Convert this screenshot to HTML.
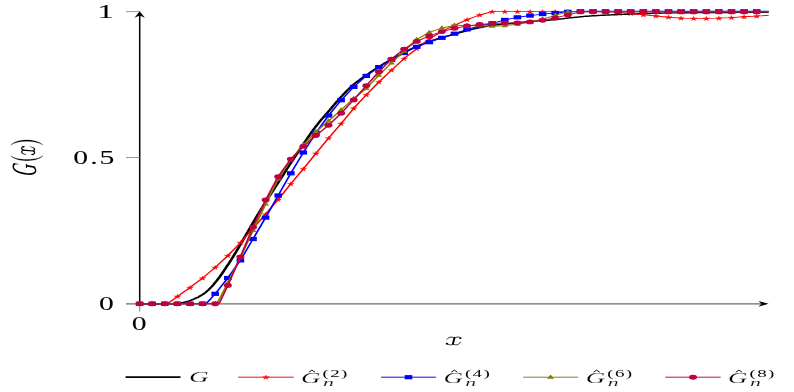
<!DOCTYPE html>
<html><head><meta charset="utf-8"><style>html,body{margin:0;padding:0;background:#fff;width:794px;height:392px;overflow:hidden;font-family:"Liberation Serif",serif}</style></head><body>
<svg width="794" height="392" viewBox="0 0 794 392" style="position:absolute;left:0;top:0;will-change:transform;opacity:0.999;filter:blur(0.4px)">
<rect width="794" height="392" fill="#fff"/>
<line x1="126" y1="303.8" x2="764" y2="303.8" stroke="#6a6a6a" stroke-width="1.3"/>
<line x1="139.7" y1="311.4" x2="139.7" y2="303" stroke="#888" stroke-width="1.1"/>
<line x1="139.7" y1="304.4" x2="139.7" y2="15" stroke="#000" stroke-width="1.5"/>
<line x1="126" y1="11.6" x2="139.6" y2="11.6" stroke="#909090" stroke-width="0.9"/>
<line x1="126" y1="157.5" x2="139.6" y2="157.5" stroke="#909090" stroke-width="0.9"/>
<path d="M768.6,303.8 L758.4,300.9 L761.5,303.8 L758.4,306.7Z" fill="#000"/>
<path d="M139.7,11.2 L134.5,17.8 L139.7,15.6 L144.9,17.8Z" fill="#000"/>
<path transform="scale(2.1,1)" d="M66.48,303.8 L66.95,303.8 L67.43,303.8 L67.90,303.8 L68.38,303.8 L68.86,303.8 L69.33,303.8 L69.81,303.8 L70.29,303.8 L70.76,303.8 L71.24,303.8 L71.71,303.8 L72.19,303.8 L72.67,303.8 L73.14,303.8 L73.62,303.8 L74.10,303.8 L74.57,303.8 L75.05,303.8 L75.52,303.8 L76.00,303.8 L76.48,303.8 L76.95,303.8 L77.43,303.8 L77.90,303.8 L78.38,303.8 L78.86,303.8 L79.33,303.8 L79.81,303.8 L80.29,303.8 L80.76,303.8 L81.24,303.8 L81.71,303.8 L82.19,303.7 L82.67,303.7 L83.14,303.6 L83.62,303.6 L84.10,303.5 L84.57,303.4 L85.05,303.3 L85.52,303.2 L86.00,303.0 L86.48,302.8 L86.95,302.7 L87.43,302.5 L87.90,302.2 L88.38,302.0 L88.86,301.7 L89.33,301.4 L89.81,301.1 L90.29,300.7 L90.76,300.3 L91.24,300.0 L91.71,299.6 L92.19,299.2 L92.67,298.8 L93.14,298.3 L93.62,297.9 L94.10,297.4 L94.57,296.9 L95.05,296.3 L95.52,295.7 L96.00,295.1 L96.48,294.5 L96.95,293.8 L97.43,293.1 L97.90,292.3 L98.38,291.5 L98.86,290.6 L99.33,289.7 L99.81,288.7 L100.29,287.7 L100.76,286.7 L101.24,285.6 L101.71,284.5 L102.19,283.3 L102.67,282.1 L103.14,280.9 L103.62,279.6 L104.10,278.3 L104.57,277.0 L105.05,275.6 L105.52,274.2 L106.00,272.8 L106.48,271.3 L106.95,269.8 L107.43,268.3 L107.90,266.8 L108.38,265.3 L108.86,263.8 L109.33,262.2 L109.81,260.7 L110.29,259.1 L110.76,257.5 L111.24,255.9 L111.71,254.3 L112.19,252.6 L112.67,250.9 L113.14,249.3 L113.62,247.6 L114.10,245.9 L114.57,244.2 L115.05,242.4 L115.52,240.7 L116.00,239.0 L116.48,237.3 L116.95,235.6 L117.43,233.8 L117.90,232.1 L118.38,230.4 L118.86,228.7 L119.33,227.0 L119.81,225.2 L120.29,223.5 L120.76,221.8 L121.24,220.1 L121.71,218.4 L122.19,216.7 L122.67,215.0 L123.14,213.4 L123.62,211.7 L124.10,210.1 L124.57,208.5 L125.05,206.9 L125.52,205.3 L126.00,203.7 L126.48,202.2 L126.95,200.6 L127.43,199.0 L127.90,197.4 L128.38,195.9 L128.86,194.3 L129.33,192.8 L129.81,191.2 L130.29,189.7 L130.76,188.1 L131.24,186.6 L131.71,185.1 L132.19,183.5 L132.67,182.0 L133.14,180.4 L133.62,178.9 L134.10,177.3 L134.57,175.7 L135.05,174.2 L135.52,172.6 L136.00,171.0 L136.48,169.4 L136.95,167.9 L137.43,166.3 L137.90,164.8 L138.38,163.2 L138.86,161.7 L139.33,160.2 L139.81,158.7 L140.29,157.2 L140.76,155.7 L141.24,154.2 L141.71,152.7 L142.19,151.2 L142.67,149.8 L143.14,148.3 L143.62,146.8 L144.10,145.3 L144.57,143.8 L145.05,142.3 L145.52,140.9 L146.00,139.4 L146.48,137.9 L146.95,136.5 L147.43,135.0 L147.90,133.6 L148.38,132.2 L148.86,130.8 L149.33,129.4 L149.81,128.1 L150.29,126.7 L150.76,125.4 L151.24,124.2 L151.71,122.9 L152.19,121.7 L152.67,120.5 L153.14,119.3 L153.62,118.2 L154.10,117.0 L154.57,115.9 L155.05,114.7 L155.52,113.6 L156.00,112.4 L156.48,111.2 L156.95,110.1 L157.43,108.9 L157.90,107.7 L158.38,106.5 L158.86,105.3 L159.33,104.2 L159.81,103.0 L160.29,101.8 L160.76,100.7 L161.24,99.5 L161.71,98.4 L162.19,97.3 L162.67,96.2 L163.14,95.2 L163.62,94.1 L164.10,93.1 L164.57,92.0 L165.05,91.0 L165.52,90.0 L166.00,89.1 L166.48,88.1 L166.95,87.2 L167.43,86.3 L167.90,85.4 L168.38,84.5 L168.86,83.7 L169.33,82.9 L169.81,82.1 L170.29,81.3 L170.76,80.6 L171.24,79.9 L171.71,79.1 L172.19,78.4 L172.67,77.7 L173.14,77.0 L173.62,76.3 L174.10,75.6 L174.57,74.9 L175.05,74.2 L175.52,73.6 L176.00,72.9 L176.48,72.2 L176.95,71.5 L177.43,70.8 L177.90,70.2 L178.38,69.5 L178.86,68.9 L179.33,68.2 L179.81,67.6 L180.29,67.0 L180.76,66.3 L181.24,65.7 L181.71,65.1 L182.19,64.5 L182.67,63.9 L183.14,63.3 L183.62,62.7 L184.10,62.1 L184.57,61.5 L185.05,61.0 L185.52,60.4 L186.00,59.8 L186.48,59.3 L186.95,58.7 L187.43,58.1 L187.90,57.6 L188.38,57.1 L188.86,56.5 L189.33,56.0 L189.81,55.4 L190.29,54.9 L190.76,54.4 L191.24,53.9 L191.71,53.3 L192.19,52.8 L192.67,52.3 L193.14,51.8 L193.62,51.3 L194.10,50.8 L194.57,50.3 L195.05,49.8 L195.52,49.3 L196.00,48.8 L196.48,48.3 L196.95,47.8 L197.43,47.3 L197.90,46.9 L198.38,46.4 L198.86,46.0 L199.33,45.6 L199.81,45.2 L200.29,44.8 L200.76,44.4 L201.24,44.0 L201.71,43.6 L202.19,43.2 L202.67,42.8 L203.14,42.5 L203.62,42.1 L204.10,41.8 L204.57,41.4 L205.05,41.1 L205.52,40.8 L206.00,40.4 L206.48,40.1 L206.95,39.8 L207.43,39.5 L207.90,39.2 L208.38,38.9 L208.86,38.6 L209.33,38.3 L209.81,38.0 L210.29,37.7 L210.76,37.5 L211.24,37.2 L211.71,36.9 L212.19,36.6 L212.67,36.3 L213.14,36.1 L213.62,35.8 L214.10,35.5 L214.57,35.2 L215.05,35.0 L215.52,34.7 L216.00,34.4 L216.48,34.1 L216.95,33.8 L217.43,33.6 L217.90,33.3 L218.38,33.0 L218.86,32.7 L219.33,32.4 L219.81,32.1 L220.29,31.8 L220.76,31.5 L221.24,31.3 L221.71,31.0 L222.19,30.7 L222.67,30.5 L223.14,30.2 L223.62,29.9 L224.10,29.7 L224.57,29.5 L225.05,29.2 L225.52,29.0 L226.00,28.7 L226.48,28.5 L226.95,28.3 L227.43,28.1 L227.90,27.8 L228.38,27.6 L228.86,27.4 L229.33,27.2 L229.81,27.0 L230.29,26.9 L230.76,26.7 L231.24,26.5 L231.71,26.3 L232.19,26.1 L232.67,26.0 L233.14,25.8 L233.62,25.7 L234.10,25.5 L234.57,25.4 L235.05,25.3 L235.52,25.1 L236.00,25.0 L236.48,24.9 L236.95,24.8 L237.43,24.7 L237.90,24.6 L238.38,24.5 L238.86,24.4 L239.33,24.3 L239.81,24.2 L240.29,24.1 L240.76,24.0 L241.24,23.9 L241.71,23.8 L242.19,23.7 L242.67,23.6 L243.14,23.5 L243.62,23.4 L244.10,23.3 L244.57,23.2 L245.05,23.1 L245.52,23.0 L246.00,22.9 L246.48,22.8 L246.95,22.7 L247.43,22.6 L247.90,22.5 L248.38,22.3 L248.86,22.2 L249.33,22.1 L249.81,22.0 L250.29,21.9 L250.76,21.8 L251.24,21.7 L251.71,21.6 L252.19,21.5 L252.67,21.5 L253.14,21.4 L253.62,21.3 L254.10,21.2 L254.57,21.1 L255.05,21.1 L255.52,21.0 L256.00,20.9 L256.48,20.8 L256.95,20.8 L257.43,20.7 L257.90,20.6 L258.38,20.6 L258.86,20.5 L259.33,20.4 L259.81,20.4 L260.29,20.3 L260.76,20.2 L261.24,20.2 L261.71,20.1 L262.19,20.0 L262.67,19.9 L263.14,19.8 L263.62,19.7 L264.10,19.7 L264.57,19.6 L265.05,19.5 L265.52,19.3 L266.00,19.2 L266.48,19.1 L266.95,19.0 L267.43,18.9 L267.90,18.8 L268.38,18.6 L268.86,18.5 L269.33,18.4 L269.81,18.3 L270.29,18.2 L270.76,18.0 L271.24,17.9 L271.71,17.8 L272.19,17.7 L272.67,17.6 L273.14,17.5 L273.62,17.4 L274.10,17.3 L274.57,17.2 L275.05,17.1 L275.52,17.0 L276.00,16.9 L276.48,16.8 L276.95,16.7 L277.43,16.6 L277.90,16.5 L278.38,16.4 L278.86,16.3 L279.33,16.3 L279.81,16.2 L280.29,16.1 L280.76,16.0 L281.24,16.0 L281.71,15.9 L282.19,15.8 L282.67,15.8 L283.14,15.7 L283.62,15.7 L284.10,15.6 L284.57,15.5 L285.05,15.5 L285.52,15.4 L286.00,15.4 L286.48,15.3 L286.95,15.3 L287.43,15.2 L287.90,15.2 L288.38,15.1 L288.86,15.1 L289.33,15.0 L289.81,15.0 L290.29,15.0 L290.76,14.9 L291.24,14.9 L291.71,14.8 L292.19,14.8 L292.67,14.7 L293.14,14.7 L293.62,14.7 L294.10,14.6 L294.57,14.6 L295.05,14.5 L295.52,14.5 L296.00,14.5 L296.48,14.4 L296.95,14.4 L297.43,14.3 L297.90,14.3 L298.38,14.3 L298.86,14.2 L299.33,14.2 L299.81,14.1 L300.29,14.1 L300.76,14.1 L301.24,14.0 L301.71,14.0 L302.19,14.0 L302.67,13.9 L303.14,13.9 L303.62,13.8 L304.10,13.8 L304.57,13.8 L305.05,13.7 L305.52,13.7 L306.00,13.7 L306.48,13.6 L306.95,13.6 L307.43,13.6 L307.90,13.5 L308.38,13.5 L308.86,13.5 L309.33,13.5 L309.81,13.4 L310.29,13.4 L310.76,13.4 L311.24,13.3 L311.71,13.3 L312.19,13.3 L312.67,13.3 L313.14,13.2 L313.62,13.2 L314.10,13.2 L314.57,13.2 L315.05,13.1 L315.52,13.1 L316.00,13.1 L316.48,13.1 L316.95,13.0 L317.43,13.0 L317.90,13.0 L318.38,13.0 L318.86,13.0 L319.33,13.0 L319.81,12.9 L320.29,12.9 L320.76,12.9 L321.24,12.9 L321.71,12.9 L322.19,12.9 L322.67,12.8 L323.14,12.8 L323.62,12.8 L324.10,12.8 L324.57,12.8 L325.05,12.8 L325.52,12.8 L326.00,12.7 L326.48,12.7 L326.95,12.7 L327.43,12.7 L327.90,12.7 L328.38,12.7 L328.86,12.7 L329.33,12.7 L329.81,12.7 L330.29,12.6 L330.76,12.6 L331.24,12.6 L331.71,12.6 L332.19,12.6 L332.67,12.6 L333.14,12.6 L333.62,12.6 L334.10,12.6 L334.57,12.6 L335.05,12.6 L335.52,12.6 L336.00,12.6 L336.48,12.6 L336.95,12.6 L337.43,12.6 L337.90,12.6 L338.38,12.5 L338.86,12.5 L339.33,12.5 L339.81,12.5 L340.29,12.5 L340.76,12.5 L341.24,12.5 L341.71,12.5 L342.19,12.5 L342.67,12.5 L343.14,12.5 L343.62,12.5 L344.10,12.5 L344.57,12.5 L345.05,12.5 L345.52,12.5 L346.00,12.5 L346.48,12.5 L346.95,12.5 L347.43,12.5 L347.90,12.5 L348.38,12.5 L348.86,12.5 L349.33,12.5 L349.81,12.5 L350.29,12.5 L350.76,12.4 L351.24,12.4 L351.71,12.4 L352.19,12.4 L352.67,12.4 L353.14,12.4 L353.62,12.4 L354.10,12.4 L354.57,12.4 L355.05,12.4 L355.52,12.4 L356.00,12.4 L356.48,12.4 L356.95,12.4 L357.43,12.4 L357.90,12.4 L358.38,12.4 L358.86,12.4 L359.33,12.4 L359.81,12.4 L360.29,12.4 L360.76,12.4 L361.24,12.4 L361.71,12.4 L362.19,12.4 L362.67,12.4 L363.14,12.4 L363.62,12.4 L364.10,12.4 L364.57,12.4 L365.05,12.4 L365.52,12.4 L366.00,12.4 L366.05,12.4" stroke="#000" stroke-width="1.4" fill="none" stroke-linejoin="round"/>
<path transform="scale(2.1,1)" d="M66.50,303.8 L72.50,303.8 L78.49,303.8 L80.10,303.2 L84.49,296.4 L90.48,287.6 L96.48,278.1 L102.48,267.4 L108.47,255.7 L114.47,242.6 L120.47,228.4 L126.46,214.2 L132.46,199.5 L138.45,183.9 L144.45,168.9 L150.45,153.4 L156.44,138.1 L162.44,123.6 L168.44,108.3 L174.43,94.9 L180.43,82.0 L186.42,70.1 L192.42,58.6 L198.42,48.7 L204.41,39.0 L210.41,31.4 L216.40,25.3 L222.40,19.6 L228.40,15.0 L234.39,11.6 L240.39,11.6 L246.39,11.6 L252.38,11.6 L258.38,11.6 L264.37,11.6 L270.37,11.6 L276.37,11.6 L282.36,11.6 L288.36,11.6 L294.36,12.2 L300.35,13.5 L306.35,14.8 L312.34,16.0 L318.34,17.2 L324.34,18.1 L330.33,18.4 L336.33,18.4 L342.32,18.1 L348.32,17.6 L354.32,16.8 L360.31,16.1 L366.05,15.3" stroke="#ff0000" stroke-width="0.9" fill="none" stroke-linejoin="round"/>
<path d="M139.65,301.70 L140.40,303.37 L143.03,303.32 L140.87,304.31 L141.74,305.95 L139.65,304.90 L137.56,305.95 L138.43,304.31 L136.27,303.32 L138.90,303.37Z" fill="#ff0000" stroke="#ff0000" stroke-width="0.35" stroke-linejoin="miter"/>
<path d="M152.24,301.70 L152.99,303.37 L155.62,303.32 L153.46,304.31 L154.33,305.95 L152.24,304.90 L150.16,305.95 L151.03,304.31 L148.87,303.32 L151.49,303.37Z" fill="#ff0000" stroke="#ff0000" stroke-width="0.35" stroke-linejoin="miter"/>
<path d="M164.83,301.70 L165.59,303.37 L168.21,303.32 L166.05,304.31 L166.92,305.95 L164.83,304.90 L162.75,305.95 L163.62,304.31 L161.46,303.32 L164.08,303.37Z" fill="#ff0000" stroke="#ff0000" stroke-width="0.35" stroke-linejoin="miter"/>
<path d="M177.43,294.30 L178.18,295.97 L180.80,295.92 L178.64,296.91 L179.51,298.55 L177.43,297.50 L175.34,298.55 L176.21,296.91 L174.05,295.92 L176.67,295.97Z" fill="#ff0000" stroke="#ff0000" stroke-width="0.35" stroke-linejoin="miter"/>
<path d="M190.02,285.50 L190.77,287.17 L193.39,287.12 L191.23,288.11 L192.10,289.75 L190.02,288.70 L187.93,289.75 L188.80,288.11 L186.64,287.12 L189.27,287.17Z" fill="#ff0000" stroke="#ff0000" stroke-width="0.35" stroke-linejoin="miter"/>
<path d="M202.61,276.00 L203.36,277.67 L205.99,277.62 L203.83,278.61 L204.70,280.25 L202.61,279.20 L200.52,280.25 L201.39,278.61 L199.23,277.62 L201.86,277.67Z" fill="#ff0000" stroke="#ff0000" stroke-width="0.35" stroke-linejoin="miter"/>
<path d="M215.20,265.30 L215.95,266.97 L218.58,266.92 L216.42,267.91 L217.29,269.55 L215.20,268.50 L213.12,269.55 L213.99,267.91 L211.83,266.92 L214.45,266.97Z" fill="#ff0000" stroke="#ff0000" stroke-width="0.35" stroke-linejoin="miter"/>
<path d="M227.79,253.60 L228.55,255.27 L231.17,255.22 L229.01,256.21 L229.88,257.85 L227.79,256.80 L225.71,257.85 L226.58,256.21 L224.42,255.22 L227.04,255.27Z" fill="#ff0000" stroke="#ff0000" stroke-width="0.35" stroke-linejoin="miter"/>
<path d="M240.39,240.50 L241.14,242.17 L243.76,242.12 L241.60,243.11 L242.47,244.75 L240.39,243.70 L238.30,244.75 L239.17,243.11 L237.01,242.12 L239.63,242.17Z" fill="#ff0000" stroke="#ff0000" stroke-width="0.35" stroke-linejoin="miter"/>
<path d="M252.98,226.30 L253.73,227.97 L256.35,227.92 L254.19,228.91 L255.06,230.55 L252.98,229.50 L250.89,230.55 L251.76,228.91 L249.60,227.92 L252.23,227.97Z" fill="#ff0000" stroke="#ff0000" stroke-width="0.35" stroke-linejoin="miter"/>
<path d="M265.57,212.10 L266.32,213.77 L268.95,213.72 L266.79,214.71 L267.66,216.35 L265.57,215.30 L263.48,216.35 L264.35,214.71 L262.19,213.72 L264.82,213.77Z" fill="#ff0000" stroke="#ff0000" stroke-width="0.35" stroke-linejoin="miter"/>
<path d="M278.16,197.40 L278.91,199.07 L281.54,199.02 L279.38,200.01 L280.25,201.65 L278.16,200.60 L276.08,201.65 L276.95,200.01 L274.79,199.02 L277.41,199.07Z" fill="#ff0000" stroke="#ff0000" stroke-width="0.35" stroke-linejoin="miter"/>
<path d="M290.75,181.80 L291.51,183.47 L294.13,183.42 L291.97,184.41 L292.84,186.05 L290.75,185.00 L288.67,186.05 L289.54,184.41 L287.38,183.42 L290.00,183.47Z" fill="#ff0000" stroke="#ff0000" stroke-width="0.35" stroke-linejoin="miter"/>
<path d="M303.35,166.80 L304.10,168.47 L306.72,168.42 L304.56,169.41 L305.43,171.05 L303.35,170.00 L301.26,171.05 L302.13,169.41 L299.97,168.42 L302.59,168.47Z" fill="#ff0000" stroke="#ff0000" stroke-width="0.35" stroke-linejoin="miter"/>
<path d="M315.94,151.30 L316.69,152.97 L319.31,152.92 L317.15,153.91 L318.02,155.55 L315.94,154.50 L313.85,155.55 L314.72,153.91 L312.56,152.92 L315.19,152.97Z" fill="#ff0000" stroke="#ff0000" stroke-width="0.35" stroke-linejoin="miter"/>
<path d="M328.53,136.00 L329.28,137.67 L331.91,137.62 L329.75,138.61 L330.62,140.25 L328.53,139.20 L326.44,140.25 L327.31,138.61 L325.15,137.62 L327.78,137.67Z" fill="#ff0000" stroke="#ff0000" stroke-width="0.35" stroke-linejoin="miter"/>
<path d="M341.12,121.50 L341.87,123.17 L344.50,123.12 L342.34,124.11 L343.21,125.75 L341.12,124.70 L339.04,125.75 L339.91,124.11 L337.75,123.12 L340.37,123.17Z" fill="#ff0000" stroke="#ff0000" stroke-width="0.35" stroke-linejoin="miter"/>
<path d="M353.71,106.20 L354.47,107.87 L357.09,107.82 L354.93,108.81 L355.80,110.45 L353.71,109.40 L351.63,110.45 L352.50,108.81 L350.34,107.82 L352.96,107.87Z" fill="#ff0000" stroke="#ff0000" stroke-width="0.35" stroke-linejoin="miter"/>
<path d="M366.31,92.80 L367.06,94.47 L369.68,94.42 L367.52,95.41 L368.39,97.05 L366.31,96.00 L364.22,97.05 L365.09,95.41 L362.93,94.42 L365.55,94.47Z" fill="#ff0000" stroke="#ff0000" stroke-width="0.35" stroke-linejoin="miter"/>
<path d="M378.90,79.90 L379.65,81.57 L382.27,81.52 L380.11,82.51 L380.98,84.15 L378.90,83.10 L376.81,84.15 L377.68,82.51 L375.52,81.52 L378.15,81.57Z" fill="#ff0000" stroke="#ff0000" stroke-width="0.35" stroke-linejoin="miter"/>
<path d="M391.49,68.00 L392.24,69.67 L394.87,69.62 L392.71,70.61 L393.58,72.25 L391.49,71.20 L389.40,72.25 L390.27,70.61 L388.11,69.62 L390.74,69.67Z" fill="#ff0000" stroke="#ff0000" stroke-width="0.35" stroke-linejoin="miter"/>
<path d="M404.08,56.50 L404.83,58.17 L407.46,58.12 L405.30,59.11 L406.17,60.75 L404.08,59.70 L402.00,60.75 L402.87,59.11 L400.71,58.12 L403.33,58.17Z" fill="#ff0000" stroke="#ff0000" stroke-width="0.35" stroke-linejoin="miter"/>
<path d="M416.67,46.60 L417.43,48.27 L420.05,48.22 L417.89,49.21 L418.76,50.85 L416.67,49.80 L414.59,50.85 L415.46,49.21 L413.30,48.22 L415.92,48.27Z" fill="#ff0000" stroke="#ff0000" stroke-width="0.35" stroke-linejoin="miter"/>
<path d="M429.27,36.90 L430.02,38.57 L432.64,38.52 L430.48,39.51 L431.35,41.15 L429.27,40.10 L427.18,41.15 L428.05,39.51 L425.89,38.52 L428.51,38.57Z" fill="#ff0000" stroke="#ff0000" stroke-width="0.35" stroke-linejoin="miter"/>
<path d="M441.86,29.30 L442.61,30.97 L445.23,30.92 L443.07,31.91 L443.94,33.55 L441.86,32.50 L439.77,33.55 L440.64,31.91 L438.48,30.92 L441.11,30.97Z" fill="#ff0000" stroke="#ff0000" stroke-width="0.35" stroke-linejoin="miter"/>
<path d="M454.45,23.20 L455.20,24.87 L457.83,24.82 L455.67,25.81 L456.54,27.45 L454.45,26.40 L452.36,27.45 L453.23,25.81 L451.07,24.82 L453.70,24.87Z" fill="#ff0000" stroke="#ff0000" stroke-width="0.35" stroke-linejoin="miter"/>
<path d="M467.04,17.50 L467.79,19.17 L470.42,19.12 L468.26,20.11 L469.13,21.75 L467.04,20.70 L464.96,21.75 L465.83,20.11 L463.67,19.12 L466.29,19.17Z" fill="#ff0000" stroke="#ff0000" stroke-width="0.35" stroke-linejoin="miter"/>
<path d="M479.63,12.90 L480.39,14.57 L483.01,14.52 L480.85,15.51 L481.72,17.15 L479.63,16.10 L477.55,17.15 L478.42,15.51 L476.26,14.52 L478.88,14.57Z" fill="#ff0000" stroke="#ff0000" stroke-width="0.35" stroke-linejoin="miter"/>
<path d="M492.23,9.50 L492.98,11.17 L495.60,11.12 L493.44,12.11 L494.31,13.75 L492.23,12.70 L490.14,13.75 L491.01,12.11 L488.85,11.12 L491.47,11.17Z" fill="#ff0000" stroke="#ff0000" stroke-width="0.35" stroke-linejoin="miter"/>
<path d="M504.82,9.50 L505.57,11.17 L508.19,11.12 L506.03,12.11 L506.90,13.75 L504.82,12.70 L502.73,13.75 L503.60,12.11 L501.44,11.12 L504.07,11.17Z" fill="#ff0000" stroke="#ff0000" stroke-width="0.35" stroke-linejoin="miter"/>
<path d="M517.41,9.50 L518.16,11.17 L520.79,11.12 L518.63,12.11 L519.50,13.75 L517.41,12.70 L515.32,13.75 L516.19,12.11 L514.03,11.12 L516.66,11.17Z" fill="#ff0000" stroke="#ff0000" stroke-width="0.35" stroke-linejoin="miter"/>
<path d="M530.00,9.50 L530.75,11.17 L533.38,11.12 L531.22,12.11 L532.09,13.75 L530.00,12.70 L527.92,13.75 L528.79,12.11 L526.63,11.12 L529.25,11.17Z" fill="#ff0000" stroke="#ff0000" stroke-width="0.35" stroke-linejoin="miter"/>
<path d="M542.59,9.50 L543.35,11.17 L545.97,11.12 L543.81,12.11 L544.68,13.75 L542.59,12.70 L540.51,13.75 L541.38,12.11 L539.22,11.12 L541.84,11.17Z" fill="#ff0000" stroke="#ff0000" stroke-width="0.35" stroke-linejoin="miter"/>
<path d="M555.19,9.50 L555.94,11.17 L558.56,11.12 L556.40,12.11 L557.27,13.75 L555.19,12.70 L553.10,13.75 L553.97,12.11 L551.81,11.12 L554.43,11.17Z" fill="#ff0000" stroke="#ff0000" stroke-width="0.35" stroke-linejoin="miter"/>
<path d="M567.78,9.50 L568.53,11.17 L571.15,11.12 L568.99,12.11 L569.86,13.75 L567.78,12.70 L565.69,13.75 L566.56,12.11 L564.40,11.12 L567.03,11.17Z" fill="#ff0000" stroke="#ff0000" stroke-width="0.35" stroke-linejoin="miter"/>
<path d="M580.37,9.50 L581.12,11.17 L583.75,11.12 L581.59,12.11 L582.46,13.75 L580.37,12.70 L578.28,13.75 L579.15,12.11 L576.99,11.12 L579.62,11.17Z" fill="#ff0000" stroke="#ff0000" stroke-width="0.35" stroke-linejoin="miter"/>
<path d="M592.96,9.50 L593.71,11.17 L596.34,11.12 L594.18,12.11 L595.05,13.75 L592.96,12.70 L590.88,13.75 L591.75,12.11 L589.59,11.12 L592.21,11.17Z" fill="#ff0000" stroke="#ff0000" stroke-width="0.35" stroke-linejoin="miter"/>
<path d="M605.55,9.50 L606.31,11.17 L608.93,11.12 L606.77,12.11 L607.64,13.75 L605.55,12.70 L603.47,13.75 L604.34,12.11 L602.18,11.12 L604.80,11.17Z" fill="#ff0000" stroke="#ff0000" stroke-width="0.35" stroke-linejoin="miter"/>
<path d="M618.15,10.10 L618.90,11.77 L621.52,11.72 L619.36,12.71 L620.23,14.35 L618.15,13.30 L616.06,14.35 L616.93,12.71 L614.77,11.72 L617.39,11.77Z" fill="#ff0000" stroke="#ff0000" stroke-width="0.35" stroke-linejoin="miter"/>
<path d="M630.74,11.40 L631.49,13.07 L634.11,13.02 L631.95,14.01 L632.82,15.65 L630.74,14.60 L628.65,15.65 L629.52,14.01 L627.36,13.02 L629.99,13.07Z" fill="#ff0000" stroke="#ff0000" stroke-width="0.35" stroke-linejoin="miter"/>
<path d="M643.33,12.70 L644.08,14.37 L646.71,14.32 L644.55,15.31 L645.42,16.95 L643.33,15.90 L641.24,16.95 L642.11,15.31 L639.95,14.32 L642.58,14.37Z" fill="#ff0000" stroke="#ff0000" stroke-width="0.35" stroke-linejoin="miter"/>
<path d="M655.92,13.90 L656.67,15.57 L659.30,15.52 L657.14,16.51 L658.01,18.15 L655.92,17.10 L653.84,18.15 L654.71,16.51 L652.55,15.52 L655.17,15.57Z" fill="#ff0000" stroke="#ff0000" stroke-width="0.35" stroke-linejoin="miter"/>
<path d="M668.51,15.10 L669.27,16.77 L671.89,16.72 L669.73,17.71 L670.60,19.35 L668.51,18.30 L666.43,19.35 L667.30,17.71 L665.14,16.72 L667.76,16.77Z" fill="#ff0000" stroke="#ff0000" stroke-width="0.35" stroke-linejoin="miter"/>
<path d="M681.11,16.00 L681.86,17.67 L684.48,17.62 L682.32,18.61 L683.19,20.25 L681.11,19.20 L679.02,20.25 L679.89,18.61 L677.73,17.62 L680.35,17.67Z" fill="#ff0000" stroke="#ff0000" stroke-width="0.35" stroke-linejoin="miter"/>
<path d="M693.70,16.30 L694.45,17.97 L697.07,17.92 L694.91,18.91 L695.78,20.55 L693.70,19.50 L691.61,20.55 L692.48,18.91 L690.32,17.92 L692.95,17.97Z" fill="#ff0000" stroke="#ff0000" stroke-width="0.35" stroke-linejoin="miter"/>
<path d="M706.29,16.30 L707.04,17.97 L709.67,17.92 L707.51,18.91 L708.38,20.55 L706.29,19.50 L704.20,20.55 L705.07,18.91 L702.91,17.92 L705.54,17.97Z" fill="#ff0000" stroke="#ff0000" stroke-width="0.35" stroke-linejoin="miter"/>
<path d="M718.88,16.00 L719.63,17.67 L722.26,17.62 L720.10,18.61 L720.97,20.25 L718.88,19.20 L716.80,20.25 L717.67,18.61 L715.51,17.62 L718.13,17.67Z" fill="#ff0000" stroke="#ff0000" stroke-width="0.35" stroke-linejoin="miter"/>
<path d="M731.47,15.50 L732.23,17.17 L734.85,17.12 L732.69,18.11 L733.56,19.75 L731.47,18.70 L729.39,19.75 L730.26,18.11 L728.10,17.12 L730.72,17.17Z" fill="#ff0000" stroke="#ff0000" stroke-width="0.35" stroke-linejoin="miter"/>
<path d="M744.07,14.70 L744.82,16.37 L747.44,16.32 L745.28,17.31 L746.15,18.95 L744.07,17.90 L741.98,18.95 L742.85,17.31 L740.69,16.32 L743.31,16.37Z" fill="#ff0000" stroke="#ff0000" stroke-width="0.35" stroke-linejoin="miter"/>
<path d="M756.66,14.00 L757.41,15.67 L760.03,15.62 L757.87,16.61 L758.74,18.25 L756.66,17.20 L754.57,18.25 L755.44,16.61 L753.28,15.62 L755.91,15.67Z" fill="#ff0000" stroke="#ff0000" stroke-width="0.35" stroke-linejoin="miter"/>
<path transform="scale(2.1,1)" d="M66.50,303.8 L72.50,303.8 L78.49,303.8 L84.49,303.8 L90.48,303.8 L96.48,303.8 L98.38,303.2 L102.48,293.8 L108.47,278.0 L114.47,260.4 L120.47,239.0 L126.46,217.6 L132.46,195.5 L138.45,173.3 L144.45,152.5 L150.45,132.8 L156.44,115.5 L162.44,100.2 L168.44,86.9 L174.43,75.9 L180.43,67.1 L186.42,59.9 L192.42,53.0 L198.42,46.8 L204.41,42.2 L210.41,37.8 L216.40,33.7 L222.40,29.4 L228.40,26.0 L234.39,23.3 L240.39,19.9 L246.39,17.3 L252.38,15.6 L258.38,14.1 L264.37,13.0 L270.37,11.8 L276.37,11.3 L282.36,11.3 L288.36,11.3 L294.36,11.3 L300.35,11.3 L306.35,11.3 L312.34,11.3 L318.34,11.3 L324.34,11.3 L330.33,11.3 L336.33,11.3 L342.32,11.3 L348.32,11.3 L354.32,11.3 L360.31,11.3 L366.05,11.3" stroke="#0000ff" stroke-width="0.9" fill="none" stroke-linejoin="round"/>
<rect x="135.8" y="301.7" width="7.6" height="4.2" fill="#0000ff"/>
<rect x="148.4" y="301.7" width="7.6" height="4.2" fill="#0000ff"/>
<rect x="161.0" y="301.7" width="7.6" height="4.2" fill="#0000ff"/>
<rect x="173.6" y="301.7" width="7.6" height="4.2" fill="#0000ff"/>
<rect x="186.2" y="301.7" width="7.6" height="4.2" fill="#0000ff"/>
<rect x="198.8" y="301.7" width="7.6" height="4.2" fill="#0000ff"/>
<rect x="211.4" y="291.7" width="7.6" height="4.2" fill="#0000ff"/>
<rect x="224.0" y="275.9" width="7.6" height="4.2" fill="#0000ff"/>
<rect x="236.6" y="258.3" width="7.6" height="4.2" fill="#0000ff"/>
<rect x="249.2" y="236.9" width="7.6" height="4.2" fill="#0000ff"/>
<rect x="261.8" y="215.5" width="7.6" height="4.2" fill="#0000ff"/>
<rect x="274.4" y="193.4" width="7.6" height="4.2" fill="#0000ff"/>
<rect x="287.0" y="171.2" width="7.6" height="4.2" fill="#0000ff"/>
<rect x="299.5" y="150.4" width="7.6" height="4.2" fill="#0000ff"/>
<rect x="312.1" y="130.7" width="7.6" height="4.2" fill="#0000ff"/>
<rect x="324.7" y="113.4" width="7.6" height="4.2" fill="#0000ff"/>
<rect x="337.3" y="98.1" width="7.6" height="4.2" fill="#0000ff"/>
<rect x="349.9" y="84.8" width="7.6" height="4.2" fill="#0000ff"/>
<rect x="362.5" y="73.8" width="7.6" height="4.2" fill="#0000ff"/>
<rect x="375.1" y="65.0" width="7.6" height="4.2" fill="#0000ff"/>
<rect x="387.7" y="57.8" width="7.6" height="4.2" fill="#0000ff"/>
<rect x="400.3" y="50.9" width="7.6" height="4.2" fill="#0000ff"/>
<rect x="412.9" y="44.7" width="7.6" height="4.2" fill="#0000ff"/>
<rect x="425.5" y="40.1" width="7.6" height="4.2" fill="#0000ff"/>
<rect x="438.1" y="35.7" width="7.6" height="4.2" fill="#0000ff"/>
<rect x="450.7" y="31.6" width="7.6" height="4.2" fill="#0000ff"/>
<rect x="463.2" y="27.3" width="7.6" height="4.2" fill="#0000ff"/>
<rect x="475.8" y="23.9" width="7.6" height="4.2" fill="#0000ff"/>
<rect x="488.4" y="21.2" width="7.6" height="4.2" fill="#0000ff"/>
<rect x="501.0" y="17.8" width="7.6" height="4.2" fill="#0000ff"/>
<rect x="513.6" y="15.2" width="7.6" height="4.2" fill="#0000ff"/>
<rect x="526.2" y="13.5" width="7.6" height="4.2" fill="#0000ff"/>
<rect x="538.8" y="12.0" width="7.6" height="4.2" fill="#0000ff"/>
<rect x="551.4" y="10.9" width="7.6" height="4.2" fill="#0000ff"/>
<rect x="564.0" y="9.7" width="7.6" height="4.2" fill="#0000ff"/>
<rect x="576.6" y="9.2" width="7.6" height="4.2" fill="#0000ff"/>
<rect x="589.2" y="9.2" width="7.6" height="4.2" fill="#0000ff"/>
<rect x="601.8" y="9.2" width="7.6" height="4.2" fill="#0000ff"/>
<rect x="614.3" y="9.2" width="7.6" height="4.2" fill="#0000ff"/>
<rect x="626.9" y="9.2" width="7.6" height="4.2" fill="#0000ff"/>
<rect x="639.5" y="9.2" width="7.6" height="4.2" fill="#0000ff"/>
<rect x="652.1" y="9.2" width="7.6" height="4.2" fill="#0000ff"/>
<rect x="664.7" y="9.2" width="7.6" height="4.2" fill="#0000ff"/>
<rect x="677.3" y="9.2" width="7.6" height="4.2" fill="#0000ff"/>
<rect x="689.9" y="9.2" width="7.6" height="4.2" fill="#0000ff"/>
<rect x="702.5" y="9.2" width="7.6" height="4.2" fill="#0000ff"/>
<rect x="715.1" y="9.2" width="7.6" height="4.2" fill="#0000ff"/>
<rect x="727.7" y="9.2" width="7.6" height="4.2" fill="#0000ff"/>
<rect x="740.3" y="9.2" width="7.6" height="4.2" fill="#0000ff"/>
<rect x="752.9" y="9.2" width="7.6" height="4.2" fill="#0000ff"/>
<path transform="scale(2.1,1)" d="M66.50,303.8 L72.50,303.8 L78.49,303.8 L84.49,303.8 L90.48,303.8 L96.48,303.8 L102.48,303.8 L103.48,303.0 L108.47,283.1 L114.47,257.4 L120.47,230.6 L126.46,204.1 L132.46,179.0 L138.45,159.9 L144.45,145.0 L150.45,131.7 L156.44,121.0 L162.44,109.9 L168.44,98.4 L174.43,88.4 L180.43,75.2 L186.42,62.9 L192.42,51.2 L198.42,39.5 L204.41,32.4 L210.41,28.0 L216.40,25.3 L222.40,25.5 L228.40,25.7 L234.39,26.2 L240.39,25.7 L246.39,24.2 L252.38,22.2 L258.38,19.1 L264.37,15.3 L270.37,11.9 L276.37,11.7 L282.36,11.7 L288.36,11.7 L294.36,11.7 L300.35,11.7 L306.35,11.7 L312.34,11.7 L318.34,11.7 L324.34,11.7 L330.33,11.7 L336.33,11.7 L342.32,11.7 L348.32,11.7 L354.32,11.7 L360.31,11.7 L366.05,11.7" stroke="#808000" stroke-width="0.9" fill="none" stroke-linejoin="round"/>
<path d="M136.2,305.3 L143.2,305.3 L139.7,301.1Z" fill="#808000"/>
<path d="M148.7,305.3 L155.7,305.3 L152.2,301.1Z" fill="#808000"/>
<path d="M161.3,305.3 L168.3,305.3 L164.8,301.1Z" fill="#808000"/>
<path d="M173.9,305.3 L180.9,305.3 L177.4,301.1Z" fill="#808000"/>
<path d="M186.5,305.3 L193.5,305.3 L190.0,301.1Z" fill="#808000"/>
<path d="M199.1,305.3 L206.1,305.3 L202.6,301.1Z" fill="#808000"/>
<path d="M211.7,305.3 L218.7,305.3 L215.2,301.1Z" fill="#808000"/>
<path d="M224.3,284.6 L231.3,284.6 L227.8,280.4Z" fill="#808000"/>
<path d="M236.9,258.9 L243.9,258.9 L240.4,254.7Z" fill="#808000"/>
<path d="M249.5,232.1 L256.5,232.1 L253.0,227.9Z" fill="#808000"/>
<path d="M262.1,205.6 L269.1,205.6 L265.6,201.4Z" fill="#808000"/>
<path d="M274.7,180.5 L281.7,180.5 L278.2,176.3Z" fill="#808000"/>
<path d="M287.3,161.4 L294.3,161.4 L290.8,157.2Z" fill="#808000"/>
<path d="M299.8,146.5 L306.8,146.5 L303.3,142.3Z" fill="#808000"/>
<path d="M312.4,133.2 L319.4,133.2 L315.9,129.0Z" fill="#808000"/>
<path d="M325.0,122.5 L332.0,122.5 L328.5,118.3Z" fill="#808000"/>
<path d="M337.6,111.4 L344.6,111.4 L341.1,107.2Z" fill="#808000"/>
<path d="M350.2,99.9 L357.2,99.9 L353.7,95.7Z" fill="#808000"/>
<path d="M362.8,89.9 L369.8,89.9 L366.3,85.7Z" fill="#808000"/>
<path d="M375.4,76.7 L382.4,76.7 L378.9,72.5Z" fill="#808000"/>
<path d="M388.0,64.4 L395.0,64.4 L391.5,60.2Z" fill="#808000"/>
<path d="M400.6,52.7 L407.6,52.7 L404.1,48.5Z" fill="#808000"/>
<path d="M413.2,41.0 L420.2,41.0 L416.7,36.8Z" fill="#808000"/>
<path d="M425.8,33.9 L432.8,33.9 L429.3,29.7Z" fill="#808000"/>
<path d="M438.4,29.5 L445.4,29.5 L441.9,25.3Z" fill="#808000"/>
<path d="M451.0,26.8 L458.0,26.8 L454.5,22.6Z" fill="#808000"/>
<path d="M463.5,27.0 L470.5,27.0 L467.0,22.8Z" fill="#808000"/>
<path d="M476.1,27.2 L483.1,27.2 L479.6,23.0Z" fill="#808000"/>
<path d="M488.7,27.7 L495.7,27.7 L492.2,23.5Z" fill="#808000"/>
<path d="M501.3,27.2 L508.3,27.2 L504.8,23.0Z" fill="#808000"/>
<path d="M513.9,25.7 L520.9,25.7 L517.4,21.5Z" fill="#808000"/>
<path d="M526.5,23.7 L533.5,23.7 L530.0,19.5Z" fill="#808000"/>
<path d="M539.1,20.6 L546.1,20.6 L542.6,16.4Z" fill="#808000"/>
<path d="M551.7,16.8 L558.7,16.8 L555.2,12.6Z" fill="#808000"/>
<path d="M564.3,13.4 L571.3,13.4 L567.8,9.2Z" fill="#808000"/>
<path d="M576.9,13.2 L583.9,13.2 L580.4,9.0Z" fill="#808000"/>
<path d="M589.5,13.2 L596.5,13.2 L593.0,9.0Z" fill="#808000"/>
<path d="M602.1,13.2 L609.1,13.2 L605.6,9.0Z" fill="#808000"/>
<path d="M614.6,13.2 L621.6,13.2 L618.1,9.0Z" fill="#808000"/>
<path d="M627.2,13.2 L634.2,13.2 L630.7,9.0Z" fill="#808000"/>
<path d="M639.8,13.2 L646.8,13.2 L643.3,9.0Z" fill="#808000"/>
<path d="M652.4,13.2 L659.4,13.2 L655.9,9.0Z" fill="#808000"/>
<path d="M665.0,13.2 L672.0,13.2 L668.5,9.0Z" fill="#808000"/>
<path d="M677.6,13.2 L684.6,13.2 L681.1,9.0Z" fill="#808000"/>
<path d="M690.2,13.2 L697.2,13.2 L693.7,9.0Z" fill="#808000"/>
<path d="M702.8,13.2 L709.8,13.2 L706.3,9.0Z" fill="#808000"/>
<path d="M715.4,13.2 L722.4,13.2 L718.9,9.0Z" fill="#808000"/>
<path d="M728.0,13.2 L735.0,13.2 L731.5,9.0Z" fill="#808000"/>
<path d="M740.6,13.2 L747.6,13.2 L744.1,9.0Z" fill="#808000"/>
<path d="M753.2,13.2 L760.2,13.2 L756.7,9.0Z" fill="#808000"/>
<path transform="scale(2.1,1)" d="M66.50,303.8 L72.50,303.8 L78.49,303.8 L84.49,303.8 L90.48,303.8 L96.48,303.8 L102.48,303.8 L104.52,303.0 L108.47,285.5 L114.47,256.9 L120.47,227.1 L126.46,200.0 L132.46,176.7 L138.45,159.1 L144.45,146.4 L150.45,135.5 L156.44,125.2 L162.44,113.2 L168.44,99.9 L174.43,85.8 L180.43,71.7 L186.42,59.1 L192.42,49.1 L198.42,41.4 L204.41,36.0 L210.41,31.6 L216.40,28.3 L222.40,26.0 L228.40,24.5 L234.39,23.5 L240.39,23.0 L246.39,23.0 L252.38,21.9 L258.38,20.2 L264.37,17.9 L270.37,14.9 L276.37,11.9 L282.36,11.9 L288.36,11.9 L294.36,11.9 L300.35,11.9 L306.35,11.9 L312.34,11.9 L318.34,11.9 L324.34,11.9 L330.33,11.9 L336.33,11.9 L342.32,11.9 L348.32,11.9 L354.32,11.9 L360.31,11.9 L366.05,11.9" stroke="#bf0040" stroke-width="0.9" fill="none" stroke-linejoin="round"/>
<ellipse cx="139.7" cy="303.8" rx="4.0" ry="2.45" fill="#bf0040"/>
<ellipse cx="152.2" cy="303.8" rx="4.0" ry="2.45" fill="#bf0040"/>
<ellipse cx="164.8" cy="303.8" rx="4.0" ry="2.45" fill="#bf0040"/>
<ellipse cx="177.4" cy="303.8" rx="4.0" ry="2.45" fill="#bf0040"/>
<ellipse cx="190.0" cy="303.8" rx="4.0" ry="2.45" fill="#bf0040"/>
<ellipse cx="202.6" cy="303.8" rx="4.0" ry="2.45" fill="#bf0040"/>
<ellipse cx="215.2" cy="303.8" rx="4.0" ry="2.45" fill="#bf0040"/>
<ellipse cx="227.8" cy="285.5" rx="4.0" ry="2.45" fill="#bf0040"/>
<ellipse cx="240.4" cy="256.9" rx="4.0" ry="2.45" fill="#bf0040"/>
<ellipse cx="253.0" cy="227.1" rx="4.0" ry="2.45" fill="#bf0040"/>
<ellipse cx="265.6" cy="200.0" rx="4.0" ry="2.45" fill="#bf0040"/>
<ellipse cx="278.2" cy="176.7" rx="4.0" ry="2.45" fill="#bf0040"/>
<ellipse cx="290.8" cy="159.1" rx="4.0" ry="2.45" fill="#bf0040"/>
<ellipse cx="303.3" cy="146.4" rx="4.0" ry="2.45" fill="#bf0040"/>
<ellipse cx="315.9" cy="135.5" rx="4.0" ry="2.45" fill="#bf0040"/>
<ellipse cx="328.5" cy="125.2" rx="4.0" ry="2.45" fill="#bf0040"/>
<ellipse cx="341.1" cy="113.2" rx="4.0" ry="2.45" fill="#bf0040"/>
<ellipse cx="353.7" cy="99.9" rx="4.0" ry="2.45" fill="#bf0040"/>
<ellipse cx="366.3" cy="85.8" rx="4.0" ry="2.45" fill="#bf0040"/>
<ellipse cx="378.9" cy="71.7" rx="4.0" ry="2.45" fill="#bf0040"/>
<ellipse cx="391.5" cy="59.1" rx="4.0" ry="2.45" fill="#bf0040"/>
<ellipse cx="404.1" cy="49.1" rx="4.0" ry="2.45" fill="#bf0040"/>
<ellipse cx="416.7" cy="41.4" rx="4.0" ry="2.45" fill="#bf0040"/>
<ellipse cx="429.3" cy="36.0" rx="4.0" ry="2.45" fill="#bf0040"/>
<ellipse cx="441.9" cy="31.6" rx="4.0" ry="2.45" fill="#bf0040"/>
<ellipse cx="454.5" cy="28.3" rx="4.0" ry="2.45" fill="#bf0040"/>
<ellipse cx="467.0" cy="26.0" rx="4.0" ry="2.45" fill="#bf0040"/>
<ellipse cx="479.6" cy="24.5" rx="4.0" ry="2.45" fill="#bf0040"/>
<ellipse cx="492.2" cy="23.5" rx="4.0" ry="2.45" fill="#bf0040"/>
<ellipse cx="504.8" cy="23.0" rx="4.0" ry="2.45" fill="#bf0040"/>
<ellipse cx="517.4" cy="23.0" rx="4.0" ry="2.45" fill="#bf0040"/>
<ellipse cx="530.0" cy="21.9" rx="4.0" ry="2.45" fill="#bf0040"/>
<ellipse cx="542.6" cy="20.2" rx="4.0" ry="2.45" fill="#bf0040"/>
<ellipse cx="555.2" cy="17.9" rx="4.0" ry="2.45" fill="#bf0040"/>
<ellipse cx="567.8" cy="14.9" rx="4.0" ry="2.45" fill="#bf0040"/>
<ellipse cx="580.4" cy="11.9" rx="4.0" ry="2.45" fill="#bf0040"/>
<ellipse cx="593.0" cy="11.9" rx="4.0" ry="2.45" fill="#bf0040"/>
<ellipse cx="605.6" cy="11.9" rx="4.0" ry="2.45" fill="#bf0040"/>
<ellipse cx="618.1" cy="11.9" rx="4.0" ry="2.45" fill="#bf0040"/>
<ellipse cx="630.7" cy="11.9" rx="4.0" ry="2.45" fill="#bf0040"/>
<ellipse cx="643.3" cy="11.9" rx="4.0" ry="2.45" fill="#bf0040"/>
<ellipse cx="655.9" cy="11.9" rx="4.0" ry="2.45" fill="#bf0040"/>
<ellipse cx="668.5" cy="11.9" rx="4.0" ry="2.45" fill="#bf0040"/>
<ellipse cx="681.1" cy="11.9" rx="4.0" ry="2.45" fill="#bf0040"/>
<ellipse cx="693.7" cy="11.9" rx="4.0" ry="2.45" fill="#bf0040"/>
<ellipse cx="706.3" cy="11.9" rx="4.0" ry="2.45" fill="#bf0040"/>
<ellipse cx="718.9" cy="11.9" rx="4.0" ry="2.45" fill="#bf0040"/>
<ellipse cx="731.5" cy="11.9" rx="4.0" ry="2.45" fill="#bf0040"/>
<ellipse cx="744.1" cy="11.9" rx="4.0" ry="2.45" fill="#bf0040"/>
<ellipse cx="756.7" cy="11.9" rx="4.0" ry="2.45" fill="#bf0040"/>
<line x1="125.6" y1="377.2" x2="180.5" y2="377.2" stroke="#000" stroke-width="1.7"/>
<line x1="238.1" y1="377.2" x2="293.7" y2="377.2" stroke="#ff0000" stroke-width="0.95"/>
<path d="M265.90,375.10 L266.65,376.77 L269.28,376.72 L267.12,377.71 L267.99,379.35 L265.90,378.30 L263.81,379.35 L264.68,377.71 L262.52,376.72 L265.15,376.77Z" fill="#ff0000" stroke="#ff0000" stroke-width="0.35" stroke-linejoin="miter"/>
<line x1="381.1" y1="377.2" x2="435.9" y2="377.2" stroke="#0000ff" stroke-width="0.95"/>
<rect x="404.7" y="375.1" width="7.6" height="4.2" fill="#0000ff"/>
<line x1="523.1" y1="377.2" x2="578.1" y2="377.2" stroke="#808000" stroke-width="0.95"/>
<path d="M547.1,378.7 L554.1,378.7 L550.6,374.5Z" fill="#808000"/>
<line x1="665.3" y1="377.2" x2="720.7" y2="377.2" stroke="#bf0040" stroke-width="0.95"/>
<ellipse cx="693.0" cy="377.2" rx="4.0" ry="2.45" fill="#bf0040"/>
<text transform="translate(113.8,18) scale(1.8,1) " style="font-family:&apos;Liberation Serif&apos;,serif" font-size="18" letter-spacing="0"  text-anchor="end" fill="#000" stroke="#000" stroke-width="0.06">1</text>
<text transform="translate(116.4,164.1) scale(1.65,1) " style="font-family:&apos;Liberation Serif&apos;,serif" font-size="18" letter-spacing="1.2"  text-anchor="end" fill="#000" stroke="#000" stroke-width="0.06">0.5</text>
<text transform="translate(113.9,309.8) scale(1.65,1) " style="font-family:&apos;Liberation Serif&apos;,serif" font-size="18" letter-spacing="0"  text-anchor="end" fill="#000" stroke="#000" stroke-width="0.06">0</text>
<text transform="translate(139.2,329.8) scale(1.65,1) " style="font-family:&apos;Liberation Serif&apos;,serif" font-size="18" letter-spacing="0"  text-anchor="middle" fill="#000" stroke="#000" stroke-width="0.06">0</text>
<g fill="none" stroke="#000" stroke-linecap="round"><path d="M454.5,337.8 L452.9,344.1" stroke-width="1.9"/><path d="M446.9,339.4 C448,337.8 449.6,337.1 451.2,337.1 C452.6,337.1 453.6,337.4 454.2,338" stroke-width="0.8"/><path d="M453,344.2 C452.2,344.8 451,344.9 449.8,344.8 C448.6,344.7 447.6,344.4 446.9,343.8" stroke-width="0.8"/><path d="M454.6,338.3 C455.4,337.4 456.6,337.0 457.8,337.0 C459,337.0 459.9,337.4 460.4,338.1" stroke-width="0.8"/><path d="M453.3,344 C454.2,344.7 455.4,344.9 456.6,344.8 C458.2,344.6 459.6,343.7 460.5,342.2" stroke-width="0.8"/></g><ellipse cx="447.0" cy="343.7" rx="1.25" ry="0.9" fill="#000"/><ellipse cx="460.3" cy="338.1" rx="1.25" ry="0.9" fill="#000"/>
<g transform="translate(28.2,150.5) rotate(-90) scale(0.58,1.66) translate(-453.9,-341)"><g fill="none" stroke="#000" stroke-linecap="round"><path d="M454.5,337.8 L452.9,344.1" stroke-width="1.9"/><path d="M446.9,339.4 C448,337.8 449.6,337.1 451.2,337.1 C452.6,337.1 453.6,337.4 454.2,338" stroke-width="0.8"/><path d="M453,344.2 C452.2,344.8 451,344.9 449.8,344.8 C448.6,344.7 447.6,344.4 446.9,343.8" stroke-width="0.8"/><path d="M454.6,338.3 C455.4,337.4 456.6,337.0 457.8,337.0 C459,337.0 459.9,337.4 460.4,338.1" stroke-width="0.8"/><path d="M453.3,344 C454.2,344.7 455.4,344.9 456.6,344.8 C458.2,344.6 459.6,343.7 460.5,342.2" stroke-width="0.8"/></g><ellipse cx="447.0" cy="343.7" rx="1.25" ry="0.9" fill="#000"/><ellipse cx="460.3" cy="338.1" rx="1.25" ry="0.9" fill="#000"/></g>
<text transform="translate(36.1,176.5) skewY(5) scale(2.1,1) rotate(-90)" style="font-family:&apos;Liberation Serif&apos;,serif" font-size="16.9" font-style="italic" fill="#000">G</text>
<path d="M10.9,145.0 C17,138.4 36.6,138.4 42.7,145.0 C36.6,140.0 17,140.0 10.9,145.0Z" fill="#000" stroke="#000" stroke-width="0.3"/>
<path d="M10.9,156.0 C17,162.2 36.6,162.2 42.7,156.0 C36.6,160.7 17,160.7 10.9,156.0Z" fill="#000" stroke="#000" stroke-width="0.3"/>
<text transform="translate(189,381.7) scale(1.88,1) " style="font-family:&apos;Liberation Serif&apos;,serif" font-size="14.5" letter-spacing="0" font-style="italic" text-anchor="start" fill="#000" stroke="#fff" stroke-width="0.12">G</text>
<text transform="translate(301.0,382.6) scale(1.92,1) " style="font-family:&apos;Liberation Serif&apos;,serif" font-size="14" letter-spacing="0" font-style="italic" text-anchor="start" fill="#000" stroke="#fff" stroke-width="0.12">G</text>
<path d="M308.8,372.2 L311.9,370.1 L315.0,372.2" stroke="#000" stroke-width="0.9" fill="none"/>
<text transform="translate(322.5,377.3) scale(1.9,1) " style="font-family:&apos;Liberation Serif&apos;,serif" font-size="10" letter-spacing="0.7"  text-anchor="start" fill="#000" stroke="#000" stroke-width="0">(2)</text>
<text transform="translate(322.9,385.6) scale(2.1,1) " style="font-family:&apos;Liberation Serif&apos;,serif" font-size="10.4" letter-spacing="0" font-style="italic" text-anchor="start" fill="#000" stroke="#fff" stroke-width="0.12">n</text>
<text transform="translate(443.40000000000003,382.6) scale(1.92,1) " style="font-family:&apos;Liberation Serif&apos;,serif" font-size="14" letter-spacing="0" font-style="italic" text-anchor="start" fill="#000" stroke="#fff" stroke-width="0.12">G</text>
<path d="M451.2,372.2 L454.3,370.1 L457.4,372.2" stroke="#000" stroke-width="0.9" fill="none"/>
<text transform="translate(464.90000000000003,377.3) scale(1.9,1) " style="font-family:&apos;Liberation Serif&apos;,serif" font-size="10" letter-spacing="0.7"  text-anchor="start" fill="#000" stroke="#000" stroke-width="0">(4)</text>
<text transform="translate(465.3,385.6) scale(2.1,1) " style="font-family:&apos;Liberation Serif&apos;,serif" font-size="10.4" letter-spacing="0" font-style="italic" text-anchor="start" fill="#000" stroke="#fff" stroke-width="0.12">n</text>
<text transform="translate(585.8000000000001,382.6) scale(1.92,1) " style="font-family:&apos;Liberation Serif&apos;,serif" font-size="14" letter-spacing="0" font-style="italic" text-anchor="start" fill="#000" stroke="#fff" stroke-width="0.12">G</text>
<path d="M593.6,372.2 L596.7,370.1 L599.8,372.2" stroke="#000" stroke-width="0.9" fill="none"/>
<text transform="translate(607.3000000000001,377.3) scale(1.9,1) " style="font-family:&apos;Liberation Serif&apos;,serif" font-size="10" letter-spacing="0.7"  text-anchor="start" fill="#000" stroke="#000" stroke-width="0">(6)</text>
<text transform="translate(607.7,385.6) scale(2.1,1) " style="font-family:&apos;Liberation Serif&apos;,serif" font-size="10.4" letter-spacing="0" font-style="italic" text-anchor="start" fill="#000" stroke="#fff" stroke-width="0.12">n</text>
<text transform="translate(728.0,382.6) scale(1.92,1) " style="font-family:&apos;Liberation Serif&apos;,serif" font-size="14" letter-spacing="0" font-style="italic" text-anchor="start" fill="#000" stroke="#fff" stroke-width="0.12">G</text>
<path d="M735.8,372.2 L738.9,370.1 L742.0,372.2" stroke="#000" stroke-width="0.9" fill="none"/>
<text transform="translate(749.5,377.3) scale(1.9,1) " style="font-family:&apos;Liberation Serif&apos;,serif" font-size="10" letter-spacing="0.7"  text-anchor="start" fill="#000" stroke="#000" stroke-width="0">(8)</text>
<text transform="translate(749.9,385.6) scale(2.1,1) " style="font-family:&apos;Liberation Serif&apos;,serif" font-size="10.4" letter-spacing="0" font-style="italic" text-anchor="start" fill="#000" stroke="#fff" stroke-width="0.12">n</text>
</svg>
</body></html>
